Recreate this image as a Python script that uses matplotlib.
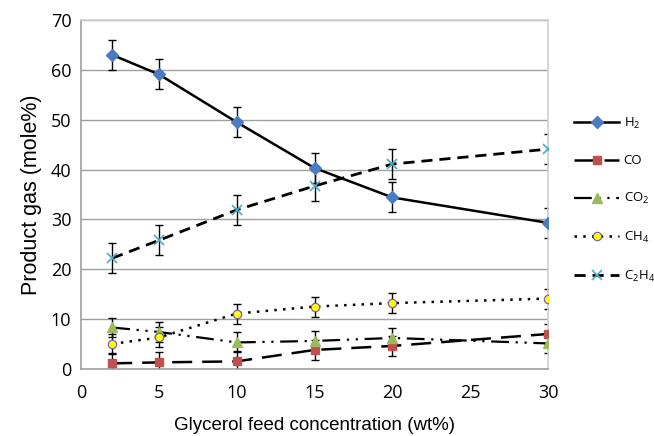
"""Product gas composition vs glycerol feed concentration."""

import matplotlib
matplotlib.use("Agg")
import matplotlib.pyplot as plt

plt.rcParams["font.family"] = ["Liberation Sans", "DejaVu Sans"]
plt.rcParams["mathtext.fontset"] = "custom"
plt.rcParams["mathtext.rm"] = "Open Sans"

# Data
feed_conc = [2, 5, 10, 15, 20, 30]
h2 = [63.0, 59.1, 49.5, 40.3, 34.4, 29.3]
co = [1.1, 1.3, 1.5, 3.8, 4.6, 7.0]
co2 = [8.3, 7.4, 5.3, 5.6, 6.2, 5.1]
ch4 = [5.0, 6.3, 11.1, 12.5, 13.2, 14.1]
c2h4 = [22.2, 25.8, 31.9, 36.7, 41.1, 44.1]
err_major = 3.0
err_minor = 2.0

fig = plt.figure(figsize=(6.54, 4.36), dpi=100)
ax = fig.add_axes([0.124, 0.154, 0.714, 0.8])

series = [
    (h2, err_major, r"$\mathregular{H_2}$",
     dict(linestyle="-", linewidth=1.8, marker="D", markersize=6,
          markerfacecolor="#4a7cc4", markeredgecolor="#4a7cc4")),
    (co, err_minor, "CO",
     dict(linestyle=(0, (8, 4)), linewidth=1.8, marker="s", markersize=6,
          markerfacecolor="#c0504d", markeredgecolor="#c0504d")),
    (co2, err_minor, r"$\mathregular{CO_2}$",
     dict(linestyle=(0, (8, 3, 1, 3, 1, 3)), linewidth=1.6, marker="^",
          markersize=7, markerfacecolor="#9bbb59", markeredgecolor="#9bbb59")),
    (ch4, err_minor, r"$\mathregular{CH_4}$",
     dict(linestyle=(0, (1, 2.5)), linewidth=1.8, marker="o", markersize=6,
          markerfacecolor="#ffff00", markeredgecolor="#7f5fa8",
          markeredgewidth=0.9)),
    (c2h4, err_major, r"$\mathregular{C_2H_4}$",
     dict(linestyle=(0, (4, 2.5)), linewidth=2.0, marker="x", markersize=7,
          markeredgecolor="#4bacc6", markeredgewidth=1.2)),
]

for values, err, label, style in series:
    ax.errorbar(feed_conc, values, yerr=err, fmt="none", ecolor="black",
                elinewidth=1.0, capsize=3, capthick=1.0, zorder=2)
    ax.plot(feed_conc, values, color="black", label=label, zorder=3, **style)

ax.set_xlim(0, 30)
ax.set_ylim(0, 70)
ax.set_xticks(range(0, 31, 5))
ax.set_yticks(range(0, 71, 10))
ax.tick_params(length=0, labelsize=13)
ax.tick_params(axis="x", pad=11)
ax.tick_params(axis="y", pad=7)
for lbl in ax.get_xticklabels() + ax.get_yticklabels():
    lbl.set_family("Open Sans")
ax.grid(axis="y", color="#a0a0a0", linewidth=1.0)
ax.set_axisbelow(True)
for side in ["left", "bottom"]:
    ax.spines[side].set_color("#a0a0a0")
    ax.spines[side].set_linewidth(1.2)
for side in ["top", "right"]:
    ax.spines[side].set_color("#d0d0d0")
    ax.spines[side].set_linewidth(1.2)

ax.set_xlabel("Glycerol feed concentration (wt%)", fontsize=13.5, labelpad=11)
ax.set_ylabel("Product gas (mole%)", fontsize=15.5, labelpad=6)

fig.legend(loc="upper left", bbox_to_anchor=(0.878, 0.735), frameon=False,
           prop={"family": "Open Sans", "size": 9.5}, labelspacing=1.8,
           handlelength=3.4, handletextpad=0.35, borderpad=0,
           borderaxespad=0)

fig.savefig("out.png", dpi=100)
